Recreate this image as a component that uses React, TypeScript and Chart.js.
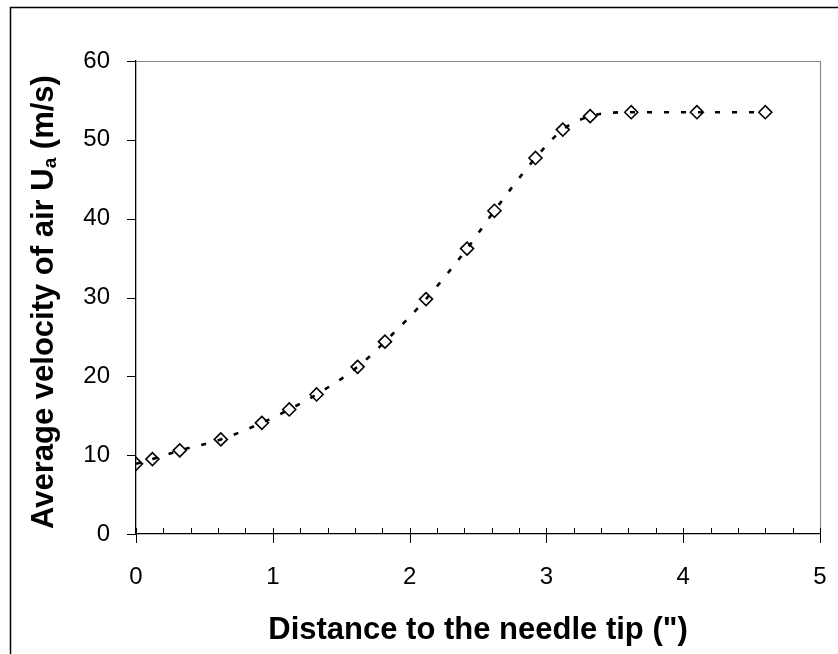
import React, { useEffect, useRef } from 'react';
import { Chart, registerables } from 'chart.js';

Chart.register(...registerables);

// Data
const distances = [0, 0.12, 0.32, 0.62, 0.92, 1.12, 1.32, 1.62, 1.82, 2.12, 2.42, 2.62, 2.92, 3.12, 3.32, 3.62, 4.1, 4.6];
const velocities = [8.9, 9.5, 10.6, 12.0, 14.1, 15.8, 17.7, 21.2, 24.4, 29.8, 36.2, 41.0, 47.7, 51.3, 53.0, 53.5, 53.5, 53.5];

const xMin = 0;
const xMax = 5;
const xMajorStep = 1;
const xMinorStep = 0.2;
const yMin = 0;
const yMax = 60;
const yMajorStep = 10;

const xTitle = 'Distance to the needle tip (")';
const yTitleMain = 'Average velocity of air U';
const yTitleSub = 'a';
const yTitleTail = ' (m/s)';

const FONT = '"Liberation Sans", Arial, Helvetica, sans-serif';

const decorPlugin = {
  id: 'decor',
  beforeDatasetsDraw(chart: any) {
    const { ctx, chartArea: ca } = chart;
    ctx.save();
    ctx.strokeStyle = '#8c8c8c';
    ctx.lineWidth = 1.2;
    ctx.beginPath();
    ctx.moveTo(ca.left, ca.top + 0.5);
    ctx.lineTo(ca.right + 0.5, ca.top + 0.5);
    ctx.lineTo(ca.right + 0.5, ca.bottom);
    ctx.stroke();
    ctx.restore();
  },
  afterDraw(chart: any) {
    const { ctx, chartArea: ca, scales } = chart;
    const xs = scales.x;
    const ys = scales.y;
    ctx.save();
    // outer frame (right/bottom edges are off the page)
    ctx.strokeStyle = '#000';
    ctx.lineWidth = 1.5;
    ctx.strokeRect(10.5, 7.5, 2000, 2000);

    // x tick marks
    ctx.lineWidth = 1;
    ctx.strokeStyle = '#000';
    ctx.beginPath();
    const nMinor = Math.round((xMax - xMin) / xMinorStep);
    for (let i = 0; i <= nMinor; i++) {
      const v = xMin + i * xMinorStep;
      const px = Math.round(xs.getPixelForValue(v)) + 0.5;
      const isMajor = Math.abs(v / xMajorStep - Math.round(v / xMajorStep)) < 1e-6;
      ctx.moveTo(px, ca.bottom - 6);
      ctx.lineTo(px, isMajor ? ca.bottom + 9 : ca.bottom);
    }
    // y tick marks
    for (let v = yMin; v <= yMax + 1e-6; v += yMajorStep) {
      const py = Math.round(ys.getPixelForValue(v)) + 0.5;
      ctx.moveTo(ca.left - 9, py);
      ctx.lineTo(ca.left, py);
    }
    ctx.stroke();

    // axis titles
    ctx.fillStyle = '#000';
    ctx.font = `bold 31px ${FONT}`;
    ctx.textAlign = 'center';
    ctx.textBaseline = 'alphabetic';
    ctx.fillText(xTitle, (ca.left + ca.right) / 2, 639);

    // y title with subscript, reading bottom-to-top
    const mainFont = `bold 31px ${FONT}`;
    const subFont = `bold 19px ${FONT}`;
    ctx.font = mainFont;
    const w1 = ctx.measureText(yTitleMain).width;
    ctx.font = subFont;
    const w2 = ctx.measureText(yTitleSub).width;
    ctx.translate(53, 529);
    ctx.rotate(-Math.PI / 2);
    ctx.textAlign = 'left';
    let cx = 0;
    ctx.font = mainFont;
    ctx.fillText(yTitleMain, cx, 0);
    cx += w1;
    ctx.font = subFont;
    ctx.fillText(yTitleSub, cx, 3);
    cx += w2;
    ctx.font = mainFont;
    ctx.fillText(yTitleTail, cx, 0);
    ctx.restore();
  },
};

export default function App() {
  const canvasRef = useRef<HTMLCanvasElement | null>(null);

  useEffect(() => {
    const canvas = canvasRef.current;
    if (!canvas) return;
    const points = distances.map((d, i) => ({ x: d, y: velocities[i] }));
    const chart = new Chart(canvas, {
      type: 'scatter',
      data: {
        datasets: [
          {
            label: 'Ua',
            data: points,
            showLine: true,
            borderColor: '#000',
            borderWidth: 2.6,
            borderDash: [5, 12],
            tension: 0.35,
            cubicInterpolationMode: 'monotone',
            pointStyle: 'rectRot',
            pointRadius: 6.5,
            pointHoverRadius: 6.5,
            pointBorderWidth: 1.6,
            pointBorderColor: '#000',
            pointBackgroundColor: 'rgba(0,0,0,0)',
          } as any,
        ],
      },
      options: {
        animation: false,
        responsive: false,
        devicePixelRatio: 1,
        layout: { padding: { top: 61, right: 18, left: 0, bottom: 0 } },
        plugins: {
          legend: { display: false },
          tooltip: { enabled: false },
          title: { display: false },
        },
        scales: {
          x: {
            type: 'linear',
            min: xMin,
            max: xMax,
            grid: { display: false, drawTicks: false },
            border: { display: true, color: '#000', width: 1.3 },
            ticks: {
              stepSize: xMajorStep,
              color: '#000',
              font: { family: FONT, size: 24 },
              padding: 29,
              maxRotation: 0,
            },
            afterFit(scale: any) {
              scale.height = 654 - 534;
              scale.paddingLeft = 0;
              scale.paddingRight = 0;
            },
          },
          y: {
            type: 'linear',
            min: yMin,
            max: yMax,
            grid: { display: false, drawTicks: false },
            border: { display: true, color: '#000', width: 1.3 },
            ticks: {
              stepSize: yMajorStep,
              color: '#000',
              font: { family: FONT, size: 24 },
              padding: 26,
            },
            afterFit(scale: any) {
              scale.width = 136;
              scale.paddingTop = 0;
              scale.paddingBottom = 0;
            },
          },
        },
      } as any,
      plugins: [decorPlugin],
    });
    return () => chart.destroy();
  }, []);

  return (
    <div style={{ position: 'fixed', left: 0, top: 0, width: 838, height: 654, background: '#fff' }}>
      <canvas ref={canvasRef} width={838} height={654} style={{ width: 838, height: 654, display: 'block' }} />
    </div>
  );
}
